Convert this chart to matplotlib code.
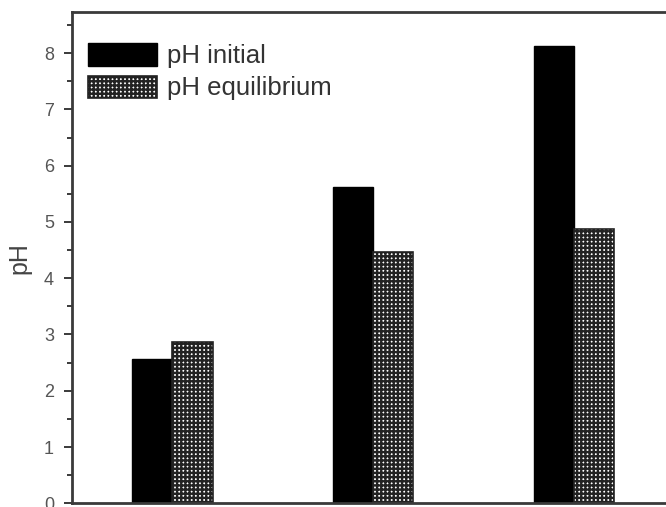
import numpy as np
import matplotlib
matplotlib.use("Agg")
import matplotlib.pyplot as plt
from matplotlib.ticker import MultipleLocator

# valores
grupos = [1, 2, 3]
ph_inicial = [2.57, 5.62, 8.13]
ph_equilibrio = [2.86, 4.47, 4.87]
rotulos = ["pH initial", "pH equilibrium"]

plt.rcParams["font.family"] = ["Liberation Sans", "DejaVu Sans"]
plt.rcParams["hatch.linewidth"] = 1.7
plt.rcParams["hatch.color"] = "#111111"

fig = plt.figure(figsize=(6.66, 5.07), dpi=100)
ax = fig.add_axes([0.1081, 0.0073, 0.9043, 0.969])

x = np.array(grupos)
largura = 0.2
ax.bar(x - largura / 2, ph_inicial, largura, color="black", edgecolor="black",
       linewidth=1, label=rotulos[0])
ax.bar(x + largura / 2, ph_equilibrio, largura, color="white", edgecolor="#222222",
       hatch="++++", linewidth=1.2, label=rotulos[1])

ax.set_xlim(0.5, 3.5)
ax.set_ylim(0, 8.73)
ax.set_xticks([])
ax.yaxis.set_major_locator(MultipleLocator(1))
ax.yaxis.set_minor_locator(MultipleLocator(0.5))
ax.tick_params(axis="y", which="major", direction="out", length=6, width=1.4,
               color="#3a3a3a", labelsize=13, labelcolor="#555555", pad=7)
ax.tick_params(axis="y", which="minor", direction="out", length=3.5, width=1.4,
               color="#3a3a3a")

for lado in ax.spines.values():
    lado.set_linewidth(2)
    lado.set_color("#3a3a3a")
ax.spines["right"].set_visible(False)

ax.set_ylabel("pH", fontsize=18, color="#444444", labelpad=9)

leg = ax.legend(loc="upper left", bbox_to_anchor=(0.0266, 0.936), frameon=False,
                fontsize=18.5, handlelength=2.7, handleheight=0.95,
                handletextpad=0.36, labelspacing=0.28, borderpad=0,
                borderaxespad=0)
for t in leg.get_texts():
    t.set_color("#333333")

fig.savefig("out.png", dpi=100)
